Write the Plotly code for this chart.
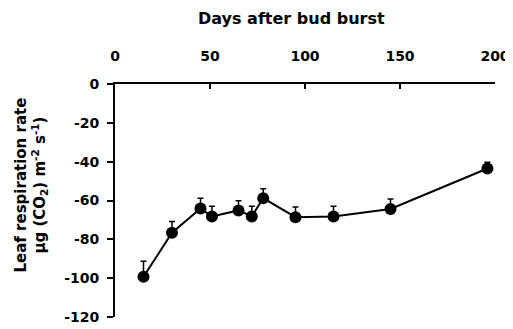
import plotly.graph_objects as go

days = [15, 30, 45, 51, 65, 72, 78, 95, 115, 145, 196]
resp = [-99.3, -76.6, -64.1, -68.2, -65.1, -68.2, -58.8, -68.6, -68.2, -64.4, -43.5]
err_up = [8.0, 5.8, 5.3, 5.3, 5.0, 5.3, 4.8, 5.2, 5.3, 5.2, 3.2]

x_ticks = [0, 50, 100, 150, 200]
x_labels = ["0", "50", "100", "150", "200"]
y_ticks = [0, -20, -40, -60, -80, -100, -120]
y_labels = ["0", "-20", "-40", "-60", "-80", "-100", "-120"]

FONT = "DejaVu Sans, sans-serif"

fig = go.Figure()
fig.add_trace(go.Scatter(
    x=days, y=resp, mode="lines+markers",
    line=dict(color="black", width=2),
    marker=dict(color="black", size=12, symbol="circle"),
    error_y=dict(type="data", symmetric=False, array=err_up,
                 arrayminus=[0] * len(err_up), color="black",
                 thickness=1.5, width=3),
    showlegend=False,
))

# the page body has an 8px default margin, so margins are offset by 8px
fig.update_layout(
    width=513, height=329,
    margin=dict(l=107, r=26, t=76, b=20),
    paper_bgcolor="white", plot_bgcolor="white",
    font=dict(family=FONT, color="black", size=14),
    xaxis=dict(
        side="top", range=[0, 200], tickvals=x_ticks, ticktext=x_labels,
        ticks="inside", ticklen=5, tickwidth=2, tickcolor="black",
        showline=True, linewidth=2, linecolor="black",
        showgrid=False, zeroline=False, automargin=False,
        tickfont=dict(family=FONT, size=14, color="black", weight="bold"),
        ticklabelstandoff=15,
    ),
    yaxis=dict(
        range=[-120, 0], tickvals=y_ticks, ticktext=y_labels,
        ticks="outside", ticklen=6, tickwidth=2, tickcolor="black",
        showline=True, linewidth=2, linecolor="black",
        showgrid=False, zeroline=False, automargin=False,
        tickfont=dict(family=FONT, size=14, color="black", weight="bold"),
        ticklabelstandoff=5,
    ),
    annotations=[
        dict(text="<b>Days after bud burst</b>", xref="paper", yref="paper",
             x=(291 - 115) / 380, y=1, yshift=84 - 18, showarrow=False,
             font=dict(family=FONT, size=16, color="black"),
             xanchor="center", yanchor="middle"),
        dict(text="<b>Leaf respiration rate<br>µg (CO<sub>2</sub>) m<sup>-2</sup> s<sup>-1</sup>)</b>",
             xref="paper", yref="paper", x=0, xshift=-(115 - 30.5), y=(317 - 185) / 233,
             textangle=-90, showarrow=False, xanchor="center", yanchor="middle",
             font=dict(family=FONT, size=15, color="black")),
    ],
)

fig.write_html("out.html")
